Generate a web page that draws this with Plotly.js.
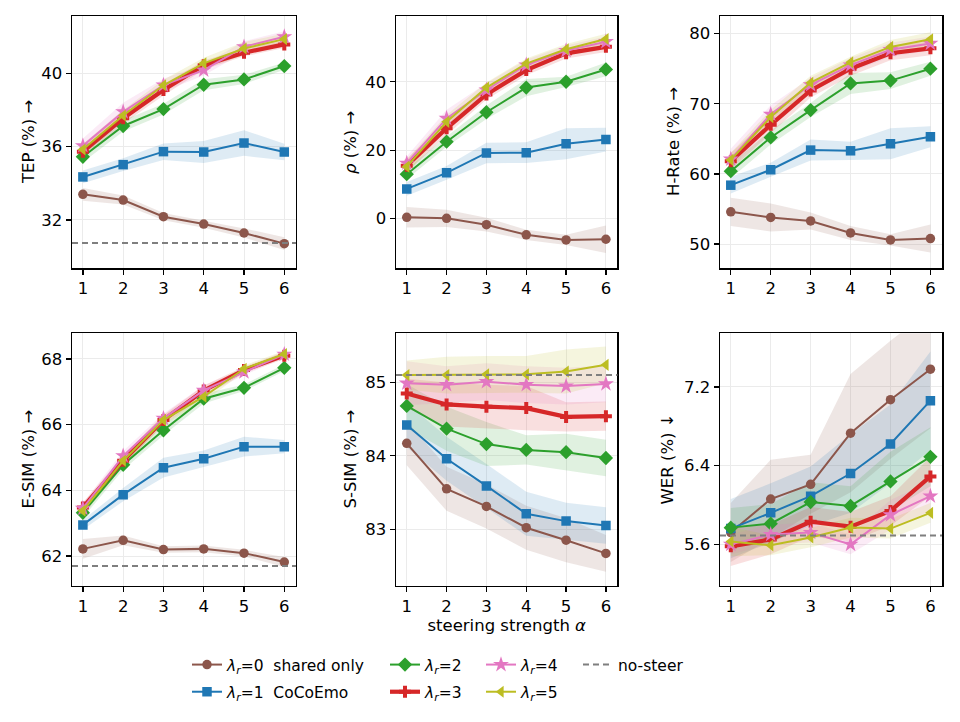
<!DOCTYPE html>
<html><head><meta charset="utf-8">
<script src="https://cdn.plot.ly/plotly-3.0.1.min.js"></script>
<style>html,body{margin:0;padding:0;background:#fff}#chart{width:960px;height:722px}</style>
</head><body><div id="chart"></div>
<script>
// steering strength alpha
const alpha = [1, 2, 3, 4, 5, 6];

const seriesNames = [
  '<i>λ</i><sub><i>r</i></sub>=0\u00a0\u00a0shared only',
  '<i>λ</i><sub><i>r</i></sub>=1\u00a0\u00a0CoCoEmo',
  '<i>λ</i><sub><i>r</i></sub>=2',
  '<i>λ</i><sub><i>r</i></sub>=3',
  '<i>λ</i><sub><i>r</i></sub>=4',
  '<i>λ</i><sub><i>r</i></sub>=5'
];
const noSteerName = 'no-steer';

// TEP (%)
const tepMean = [
  [33.40, 33.09, 32.18, 31.78, 31.29, 30.71],
  [34.35, 35.02, 35.73, 35.71, 36.20, 35.71],
  [35.45, 37.13, 38.05, 39.38, 39.67, 40.40],
  [35.73, 37.55, 39.09, 40.45, 41.13, 41.58],
  [36.05, 37.90, 39.36, 40.18, 41.45, 42.00],
  [35.85, 37.70, 39.35, 40.55, 41.36, 41.87]
];
const tepSd = [
  [0.35, 0.25, 0.20, 0.20, 0.25, 0.35],
  [0.35, 0.35, 0.45, 0.60, 0.70, 0.45],
  [0.30, 0.30, 0.30, 0.30, 0.25, 0.20],
  [0.30, 0.30, 0.30, 0.25, 0.20, 0.20],
  [0.40, 0.50, 0.35, 0.30, 0.30, 0.30],
  [0.30, 0.30, 0.30, 0.30, 0.35, 0.30]
];
const tepNoSteer = 30.75;
const tepTicks = [32, 36, 40];

// rho (%)
const rhoMean = [
  [0.4, 0.1, -1.75, -4.7, -6.2, -6.0],
  [8.7, 13.4, 19.2, 19.3, 21.9, 23.1],
  [13.0, 22.5, 31.1, 38.3, 40.0, 43.6],
  [15.5, 26.4, 36.3, 43.4, 48.3, 50.2],
  [16.2, 29.3, 37.6, 44.9, 49.1, 51.7],
  [15.2, 28.3, 38.3, 45.3, 49.5, 52.5]
];
const rhoSd = [
  [3.0, 2.5, 2.0, 1.5, 1.5, 4.0],
  [2.0, 2.0, 3.0, 3.0, 4.5, 3.5],
  [1.5, 1.5, 2.0, 2.5, 1.5, 2.0],
  [2.0, 2.0, 1.5, 1.5, 1.5, 1.5],
  [2.0, 2.5, 2.0, 1.5, 1.5, 1.5],
  [2.0, 2.0, 1.5, 1.5, 1.5, 1.5]
];
const rhoTicks = [0, 20, 40];

// H-Rate (%)
const hrMean = [
  [54.6, 53.8, 53.3, 51.6, 50.6, 50.8],
  [58.4, 60.6, 63.4, 63.3, 64.3, 65.3],
  [60.4, 65.2, 69.1, 72.9, 73.3, 75.0],
  [61.8, 67.0, 71.9, 75.0, 77.2, 77.9],
  [62.1, 68.5, 72.7, 75.5, 77.7, 78.6],
  [62.0, 68.1, 73.0, 75.9, 78.1, 79.2]
];
const hrSd = [
  [2.0, 2.0, 1.2, 1.0, 0.8, 2.0],
  [1.2, 1.0, 1.5, 1.3, 2.2, 1.5],
  [1.0, 1.0, 1.0, 1.5, 1.2, 1.0],
  [1.2, 1.2, 1.0, 1.0, 1.0, 1.0],
  [1.5, 1.3, 1.0, 1.0, 1.0, 1.0],
  [1.0, 1.0, 1.0, 0.8, 1.0, 1.0]
];
const hrTicks = [50, 60, 70, 80];

// E-SIM (%)
const esimMean = [
  [62.22, 62.48, 62.20, 62.22, 62.09, 61.82],
  [62.95, 63.87, 64.69, 64.96, 65.33, 65.33],
  [63.32, 64.78, 65.83, 66.79, 67.12, 67.73],
  [63.48, 64.90, 66.14, 67.04, 67.66, 68.10],
  [63.45, 65.05, 66.19, 67.04, 67.60, 68.14],
  [63.38, 64.90, 66.14, 66.85, 67.70, 68.15]
];
const esimSd = [
  [0.30, 0.15, 0.10, 0.10, 0.10, 0.15],
  [0.15, 0.20, 0.30, 0.25, 0.30, 0.20],
  [0.15, 0.15, 0.15, 0.15, 0.10, 0.10],
  [0.15, 0.15, 0.15, 0.15, 0.10, 0.10],
  [0.15, 0.15, 0.15, 0.15, 0.10, 0.10],
  [0.15, 0.15, 0.15, 0.15, 0.10, 0.10]
];
const esimNoSteer = 61.70;
const esimTicks = [62, 64, 66, 68];

// S-SIM (%)
const ssimMean = [
  [84.17, 83.55, 83.31, 83.02, 82.85, 82.67],
  [84.42, 83.96, 83.59, 83.21, 83.11, 83.05],
  [84.68, 84.37, 84.16, 84.08, 84.05, 83.97],
  [84.85, 84.70, 84.67, 84.65, 84.53, 84.54],
  [84.99, 84.97, 85.01, 84.97, 84.95, 84.98],
  [85.10, 85.10, 85.11, 85.11, 85.15, 85.24]
];
const ssimSd = [
  [0.30, 0.30, 0.30, 0.30, 0.30, 0.25],
  [0.30, 0.30, 0.30, 0.30, 0.25, 0.25],
  [0.30, 0.30, 0.30, 0.20, 0.25, 0.25],
  [0.20, 0.30, 0.30, 0.30, 0.20, 0.20],
  [0.30, 0.25, 0.25, 0.25, 0.25, 0.25],
  [0.20, 0.25, 0.25, 0.25, 0.30, 0.25]
];
const ssimNoSteer = 85.10;
const ssimTicks = [83, 84, 85];

// WER (%)
const werMean = [
  [5.72, 6.06, 6.21, 6.73, 7.07, 7.38],
  [5.76, 5.92, 6.09, 6.32, 6.62, 7.06],
  [5.77, 5.81, 6.03, 5.99, 6.24, 6.49],
  [5.58, 5.65, 5.83, 5.78, 5.94, 6.29],
  [5.60, 5.70, 5.72, 5.60, 5.90, 6.09],
  [5.63, 5.59, 5.67, 5.77, 5.76, 5.92]
];
const werSd = [
  [0.30, 0.40, 0.30, 0.60, 0.60, 0.60],
  [0.30, 0.30, 0.30, 0.40, 0.40, 0.50],
  [0.20, 0.20, 0.20, 0.20, 0.30, 0.30],
  [0.20, 0.15, 0.15, 0.15, 0.15, 0.20],
  [0.10, 0.10, 0.10, 0.10, 0.15, 0.15],
  [0.15, 0.10, 0.10, 0.10, 0.10, 0.10]
];
const werNoSteer = 5.69;
const werTicks = [5.6, 6.4, 7.2];

// ---- styling ----
const colors = ['#8c564b', '#1f77b4', '#2ca02c', '#d62728', '#e377c2', '#bcbd22'];
const bandColors = ['rgba(140,86,75,0.15)', 'rgba(31,119,180,0.15)', 'rgba(44,160,44,0.15)',
                    'rgba(214,39,40,0.15)', 'rgba(227,119,194,0.15)', 'rgba(188,189,34,0.15)'];
const symbols = ['circle', 'square', 'diamond', 'cross', 'star', 'triangle-left'];
const lineWidths = [2, 2, 2, 4.2, 2, 2];
const markerSizes = [9.5, 9.5, 11, 10, 12, 10.5];
const legendIds = ['legend', 'legend', 'legend2', 'legend2', 'legend3', 'legend3'];

const FONT = 'DejaVu Sans, sans-serif';
const colX = [[0.075, 0.3083], [0.4125, 0.6432], [0.75, 0.98125]];
const rowY = [[0.6288, 0.9778], [0.1888, 0.5384]];
const titleX = [[28, 350, 673], [28, 350, 667]];

const panels = [
  {mean: tepMean, sd: tepSd, ticks: tepTicks, noSteer: tepNoSteer, title: 'TEP (%) →', range: [29.38, 43.13], col: 0, row: 0},
  {mean: rhoMean, sd: rhoSd, ticks: rhoTicks, noSteer: null, title: '<i>ρ</i> (%) →', range: [-14.4, 59.2], col: 1, row: 0},
  {mean: hrMean, sd: hrSd, ticks: hrTicks, noSteer: null, title: 'H-Rate (%) →', range: [46.6, 82.5], col: 2, row: 0},
  {mean: esimMean, sd: esimSd, ticks: esimTicks, noSteer: esimNoSteer, title: 'E-SIM (%) →', range: [61.1, 68.78], col: 0, row: 1},
  {mean: ssimMean, sd: ssimSd, ticks: ssimTicks, noSteer: ssimNoSteer, title: 'S-SIM (%) →', range: [82.23, 85.67], col: 1, row: 1},
  {mean: werMean, sd: werSd, ticks: werTicks, noSteer: werNoSteer, title: 'WER (%) ↓', range: [5.18, 7.745], col: 2, row: 1}
];

const traces = [];
const shapes = [];
const annotations = [];
const layout = {
  width: 960, height: 722,
  margin: {l: 0, r: 0, t: 0, b: 0, autoexpand: false},
  paper_bgcolor: '#fff', plot_bgcolor: '#fff',
  font: {family: FONT, size: 16.5, color: '#000'},
  showlegend: true
};

panels.forEach((p, k) => {
  const n = k + 1;
  const xa = n === 1 ? 'x' : 'x' + n;
  const ya = n === 1 ? 'y' : 'y' + n;
  const xKey = n === 1 ? 'xaxis' : 'xaxis' + n;
  const yKey = n === 1 ? 'yaxis' : 'yaxis' + n;
  const axCommon = {
    showline: true, mirror: true, linecolor: '#000', linewidth: 1.5,
    ticks: 'outside', ticklen: 5, tickwidth: 1.3, tickcolor: '#000',
    showgrid: true, gridcolor: '#ebebeb', gridwidth: 1, zeroline: false,
    automargin: false,
    tickfont: {family: FONT, size: 16.5, color: '#000'}
  };
  layout[xKey] = Object.assign({}, axCommon, {
    domain: colX[p.col], anchor: ya, range: [0.73, 6.29],
    tickmode: 'array', tickvals: alpha, ticktext: alpha.map(String)
  });
  if (k === 4) {
    layout[xKey].title = {text: 'steering strength <i>α</i>', font: {family: FONT, size: 16.5, color: '#000'}, standoff: 2};
  }
  layout[yKey] = Object.assign({}, axCommon, {
    domain: rowY[p.row], anchor: xa, range: p.range,
    tickmode: 'array', tickvals: p.ticks, ticktext: p.ticks.map(v => String(v))
  });
  // y-axis label (placed as rotated text beside its panel)
  annotations.push({
    text: p.title, textangle: -90, showarrow: false,
    xref: 'paper', yref: 'paper',
    x: titleX[p.row][p.col] / 960, y: (rowY[p.row][0] + rowY[p.row][1]) / 2,
    xanchor: 'center', yanchor: 'middle',
    font: {family: FONT, size: 16.5, color: '#000'}
  });

  // bands
  p.mean.forEach((m, i) => {
    const upper = m.map((v, j) => v + p.sd[i][j]);
    const lower = m.map((v, j) => v - p.sd[i][j]);
    traces.push({
      type: 'scatter', mode: 'lines', xaxis: xa, yaxis: ya,
      x: alpha.concat(alpha.slice().reverse()),
      y: upper.concat(lower.slice().reverse()),
      fill: 'toself', fillcolor: bandColors[i], line: {width: 0, color: 'rgba(0,0,0,0)'},
      hoverinfo: 'skip', showlegend: false, legendgroup: 'g' + i, legend: legendIds[i]
    });
  });
  // lines
  p.mean.forEach((m, i) => {
    traces.push({
      type: 'scatter', mode: 'lines+markers', xaxis: xa, yaxis: ya,
      x: alpha, y: m, name: seriesNames[i],
      line: {color: colors[i], width: lineWidths[i]},
      marker: {symbol: symbols[i], size: markerSizes[i], color: colors[i], line: {width: 0}},
      showlegend: k === 0, legendgroup: 'g' + i, legend: legendIds[i]
    });
  });
  if (p.noSteer !== null) {
    shapes.push({
      type: 'line', xref: xa + ' domain', yref: ya, x0: 0, x1: 1, y0: p.noSteer, y1: p.noSteer,
      line: {color: '#7f7f7f', width: 2, dash: '6px,4px'}, layer: 'above'
    });
  }
});

// legend entry for no-steer reference line
traces.push({
  type: 'scatter', mode: 'lines', x: [null], y: [null], name: noSteerName,
  line: {color: '#7f7f7f', width: 2, dash: '6px,4px'},
  showlegend: true, legend: 'legend4', legendgroup: 'ns'
});

layout.shapes = shapes;
layout.annotations = annotations;
const legBase = {
  xref: 'container', yref: 'container', xanchor: 'left', yanchor: 'top',
  bgcolor: 'rgba(0,0,0,0)', borderwidth: 0, orientation: 'v',
  font: {family: FONT, size: 15.5, color: '#000'},
  traceorder: 'grouped', tracegroupgap: 4, itemwidth: 30
};
const legY = 1 - 648 / 722;
layout.legend = Object.assign({}, legBase, {x: 187 / 960, y: legY});
layout.legend2 = Object.assign({}, legBase, {x: 385 / 960, y: legY});
layout.legend3 = Object.assign({}, legBase, {x: 481 / 960, y: legY});
layout.legend4 = Object.assign({}, legBase, {x: 578 / 960, y: legY});

Plotly.newPlot('chart', traces, layout, {displayModeBar: false, staticPlot: true});
</script>
</body></html>
